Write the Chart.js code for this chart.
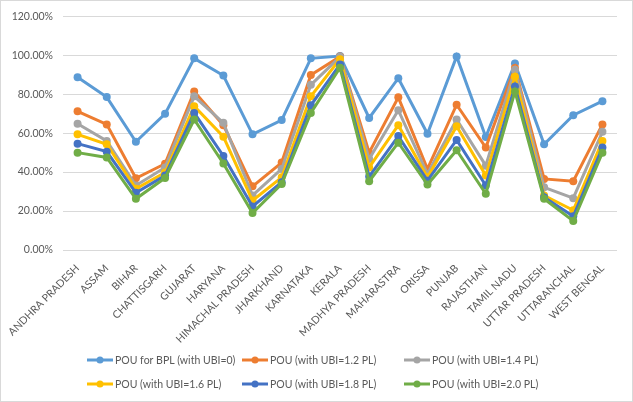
<!DOCTYPE html>
<html>
<head>
<meta charset="utf-8">
<script src="https://cdn.jsdelivr.net/npm/chart.js@4"></script>
<style>
  html, body { margin: 0; padding: 0; background: #fff; }
  #wrap { width: 633px; height: 402px; }
</style>
</head>
<body>
<div id="wrap"><canvas id="chart" width="633" height="402"></canvas></div>
<script>
// --- Data ---
const categories = ['ANDHRA PRADESH', 'ASSAM', 'BIHAR', 'CHATTISGARH', 'GUJARAT', 'HARYANA',
  'HIMACHAL PRADESH', 'JHARKHAND', 'KARNATAKA', 'KERALA', 'MADHYA PRADESH', 'MAHARASTRA',
  'ORISSA', 'PUNJAB', 'RAJASTHAN', 'TAMIL NADU', 'UTTAR PRADESH', 'UTTARANCHAL', 'WEST BENGAL'];

const pouBpl  = [88.7, 78.5, 55.6, 69.9, 98.4, 89.6, 59.4, 66.7, 98.4, 99.6, 67.8, 88.2, 59.7, 99.4, 58.0, 95.8, 54.3, 69.2, 76.4];
const pouUbi12 = [71.2, 64.5, 36.8, 44.3, 81.4, 64.1, 32.7, 44.9, 89.9, 99.3, 50.0, 78.4, 41.6, 74.6, 52.6, 93.5, 36.5, 35.3, 64.5];
const pouUbi14 = [64.8, 56.0, 33.1, 42.4, 78.9, 65.3, 28.0, 41.6, 84.8, 99.2, 46.7, 71.8, 39.0, 67.0, 43.3, 92.5, 32.2, 26.6, 60.7];
const pouUbi16 = [59.4, 54.3, 31.4, 39.8, 73.8, 58.2, 25.4, 37.3, 78.9, 98.0, 42.4, 64.1, 37.3, 63.6, 38.2, 89.0, 28.0, 20.4, 56.0];
const pouUbi18 = [54.6, 50.5, 29.4, 38.2, 70.4, 48.3, 22.4, 34.8, 74.3, 95.3, 37.7, 58.5, 35.6, 56.5, 33.1, 84.0, 27.1, 17.3, 52.6];
const pouUbi20 = [50.0, 47.5, 26.3, 37.0, 67.0, 44.4, 19.0, 33.9, 70.4, 93.6, 35.3, 55.1, 33.6, 51.2, 28.9, 81.4, 26.3, 14.9, 50.0];

const seriesNames = ['POU for BPL (with UBI=0)', 'POU (with UBI=1.2 PL)', 'POU (with UBI=1.4 PL)',
  'POU (with UBI=1.6 PL)', 'POU (with UBI=1.8 PL)', 'POU (with UBI=2.0 PL)'];
const seriesValues = [pouBpl, pouUbi12, pouUbi14, pouUbi16, pouUbi18, pouUbi20];
const seriesColors = ['#5B9BD5', '#ED7D31', '#A5A5A5', '#FFC000', '#4472C4', '#70AD47'];

const yTicks = [0, 20, 40, 60, 80, 100, 120];

const FONT = 'Lato';
const TEXT = '#595959';

// --- Custom legend (Excel-style grid of columns) ---
const legendCols = [87, 242, 404];
const legendRows = [360, 384];

const excelLegend = {
  id: 'excelLegend',
  beforeDraw(chart) {
    const c = chart.ctx;
    c.save();
    c.fillStyle = '#fff';
    c.fillRect(0, 0, chart.width, chart.height);
    c.strokeStyle = '#D9D9D9';
    c.lineWidth = 1;
    c.strokeRect(0.5, 0.5, chart.width - 1, chart.height - 1);
    c.restore();
  },
  afterDraw(chart) {
    const c = chart.ctx;
    c.save();
    c.font = '10.5px ' + FONT;
    c.textBaseline = 'middle';
    seriesNames.forEach((name, i) => {
      const x = legendCols[i % 3];
      const y = legendRows[Math.floor(i / 3)];
      c.strokeStyle = seriesColors[i];
      c.lineWidth = 3;
      c.beginPath();
      c.moveTo(x, y);
      c.lineTo(x + 26, y);
      c.stroke();
      c.fillStyle = seriesColors[i];
      c.beginPath();
      c.arc(x + 13, y, 3.5, 0, Math.PI * 2);
      c.fill();
      c.fillStyle = TEXT;
      c.fillText(name, x + 28, y + 0.5);
    });
    c.restore();
  }
};

const ctx = document.getElementById('chart').getContext('2d');
new Chart(ctx, {
  type: 'line',
  data: {
    labels: categories,
    datasets: seriesValues.map((vals, i) => ({
      label: seriesNames[i],
      data: vals,
      borderColor: seriesColors[i],
      backgroundColor: seriesColors[i],
      borderWidth: 3,
      pointRadius: 4,
      pointHoverRadius: 4,
      pointBorderWidth: 0,
      tension: 0,
      order: seriesNames.length - i
    }))
  },
  options: {
    responsive: false,
    animation: false,
    layout: { padding: { left: 0, right: 16, top: 8, bottom: 57 } },
    plugins: {
      legend: { display: false },
      tooltip: { enabled: false }
    },
    scales: {
      x: {
        offset: true,
        grid: { display: false },
        border: { display: false },
        ticks: {
          color: TEXT,
          font: { family: FONT, size: 10.5 },
          maxRotation: 45,
          minRotation: 45,
          autoSkip: false,
          padding: 4
        },
        afterFit: s => { s.height = 95; }
      },
      y: {
        min: 0,
        max: 120,
        afterBuildTicks: s => { s.ticks = yTicks.map(v => ({ value: v })); },
        grid: { color: '#D9D9D9', drawTicks: false },
        border: { display: false },
        ticks: {
          color: TEXT,
          font: { family: FONT, size: 10.5 },
          padding: 10,
          callback: v => v.toFixed(2) + '%'
        },
        afterFit: s => { s.width = 63; }
      }
    }
  },
  plugins: [excelLegend]
});
</script>
</body>
</html>
